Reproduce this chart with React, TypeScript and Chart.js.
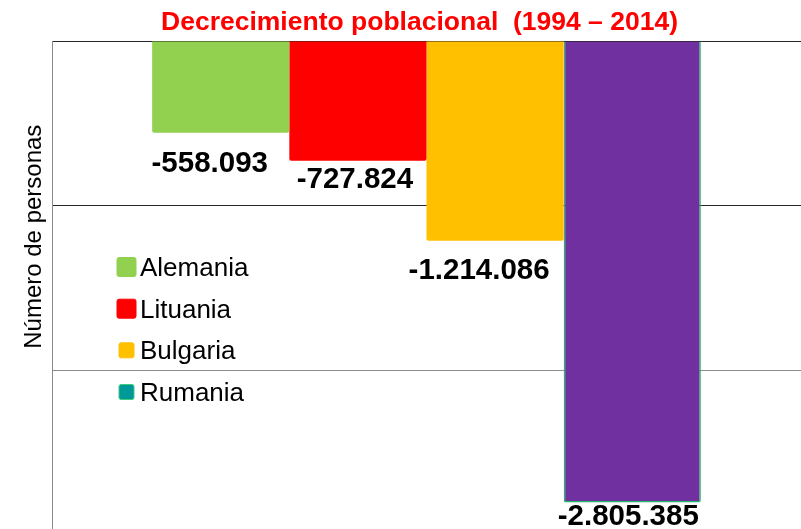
import React, { useEffect, useRef } from "react";
import { Chart, registerables } from "chart.js";

Chart.register(...registerables);

// ---- data ----
const countries = ["Alemania", "Lituania", "Bulgaria", "Rumania"];
const decrease = [-558093, -727824, -1214086, -2805385];
const yTicks = [0, -1000000, -2000000, -3000000];
const chartTitle = "Decrecimiento poblacional  (1994 – 2014)";
const yAxisTitle = "Número de personas";

// ---- styles ----
const barColors = ["#92D050", "#FF0000", "#FFC000", "#7030A0"];
const barBorders = ["#92D050", "#FF0000", "#FFC000", "#22B86A"];
const legendColors = ["#92D050", "#FF0000", "#FFC000", "#009999"];
const legendBorders = ["#92D050", "#FF0000", "#FFC000", "#3CCB78"];
const legendBox = [19, 19, 15, 15];
const labelShift = [
  [-11, 31],
  [-3, 19],
  [-16, 30],
  [-4, 14],
];
const FONT = "'Liberation Sans', Arial, Helvetica, sans-serif";

function fmt(v: number): string {
  const s = Math.abs(v).toString().replace(/\B(?=(\d{3})+(?!\d))/g, ".");
  return (v < 0 ? "-" : "") + s;
}

const overlay = {
  id: "overlay",
  afterDatasetsDraw(chart: any) {
    const ctx = chart.ctx as CanvasRenderingContext2D;
    const area = chart.chartArea;
    ctx.save();

    // data labels
    ctx.fillStyle = "#000";
    ctx.font = `bold 29.5px ${FONT}`;
    ctx.textAlign = "center";
    ctx.textBaseline = "middle";
    chart.data.datasets.forEach((ds: any, i: number) => {
      const meta = chart.getDatasetMeta(i);
      meta.data.forEach((el: any, j: number) => {
        const v = ds.data[j];
        ctx.fillText(fmt(v), el.x + labelShift[i][0], el.y + labelShift[i][1]);
      });
    });

    // legend (inside plot, left)
    ctx.font = `26px ${FONT}`;
    ctx.textAlign = "left";
    ctx.textBaseline = "alphabetic";
    const rowY = [267, 308.7, 350.3, 392];
    chart.data.datasets.forEach((ds: any, i: number) => {
      const s = legendBox[i];
      const cx = area.left + 74.5;
      const cy = rowY[i];
      ctx.beginPath();
      const x0 = cx - s / 2;
      const y0 = cy - s / 2;
      (ctx as any).roundRect(x0, y0, s, s, 2);
      ctx.fillStyle = ds.legendColor;
      ctx.fill();
      ctx.lineWidth = 1;
      ctx.strokeStyle = ds.legendBorder;
      ctx.stroke();
      ctx.fillStyle = "#000";
      ctx.fillText(ds.label, area.left + 88, cy + 9);
    });

    // main title
    ctx.fillStyle = "#FF0000";
    ctx.font = `bold 26.5px ${FONT}`;
    ctx.textAlign = "center";
    ctx.fillText(chartTitle, 419.5, 29.5);

    // y axis title
    ctx.fillStyle = "#000";
    ctx.font = `24px ${FONT}`;
    ctx.translate(40.5, 236.7);
    ctx.rotate(-Math.PI / 2);
    ctx.textAlign = "center";
    ctx.textBaseline = "alphabetic";
    ctx.fillText(yAxisTitle, 0, 0);

    ctx.restore();
  },
};

export default function App() {
  const ref = useRef<HTMLCanvasElement | null>(null);

  useEffect(() => {
    if (!ref.current) return;
    const chart = new Chart(ref.current, {
      type: "bar",
      data: {
        labels: [""],
        datasets: countries.map((c, i) => ({
          label: c,
          data: [decrease[i]],
          backgroundColor: barColors[i],
          borderColor: barBorders[i],
          borderWidth: i === 3 ? 1.5 : 0,
          borderRadius: 2,
          borderSkipped: "start",
          legendColor: legendColors[i],
          legendBorder: legendBorders[i],
          categoryPercentage: 0.7326,
          barPercentage: 1,
        })) as any,
      },
      options: {
        responsive: false,
        animation: false,
        devicePixelRatio: 1,
        layout: { padding: { top: 41, left: 52, right: 0, bottom: 5.5 } },
        plugins: {
          legend: { display: false },
          title: { display: false },
          tooltip: { enabled: false },
        },
        scales: {
          x: { type: "category", display: false },
          y: {
            min: yTicks[yTicks.length - 1],
            max: yTicks[0],
            afterBuildTicks: (axis: any) => {
              axis.ticks = yTicks.map((v) => ({ value: v }));
            },
            ticks: { display: false },
            grid: {
              drawTicks: false,
              lineWidth: 1,
              color: (c: any) =>
                c.tick && c.tick.value <= -2000000 ? "#8c8c8c" : "#262626",
            },
            border: { display: true, color: "#8a8a8a", width: 1 },
          },
        },
      } as any,
      plugins: [overlay],
    });
    return () => chart.destroy();
  }, []);

  return (
    <div
      style={{
        position: "absolute",
        left: 0,
        top: 0,
        width: 801,
        height: 529,
        overflow: "hidden",
        background: "#fff",
      }}
    >
      <canvas
        ref={ref}
        width={801}
        height={540}
        style={{ display: "block", width: 801, height: 540 }}
      />
    </div>
  );
}
